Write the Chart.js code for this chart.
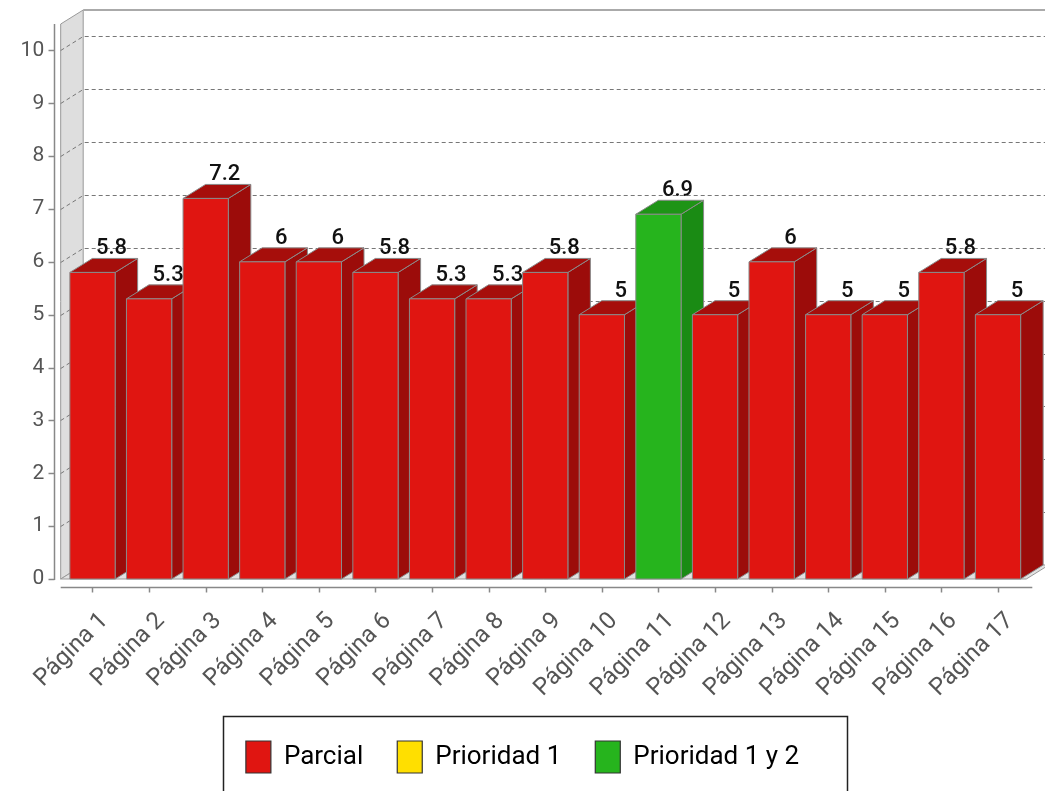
<!DOCTYPE html>
<html><head><meta charset="utf-8">
<script src="https://cdn.jsdelivr.net/npm/chart.js@4.4.0/dist/chart.umd.min.js"></script>
<style>html,body{margin:0;padding:0;background:#fff;overflow:hidden}#wrap{width:1045px;height:791px;position:relative}</style>
</head><body><div id="wrap"><canvas id="c" width="1045" height="791"></canvas></div>
<script>
const categories = ['Página 1','Página 2','Página 3','Página 4','Página 5','Página 6','Página 7','Página 8','Página 9','Página 10','Página 11','Página 12','Página 13','Página 14','Página 15','Página 16','Página 17'];
const values = [5.8, 5.3, 7.2, 6, 6, 5.8, 5.3, 5.3, 5.8, 5, 6.9, 5, 6, 5, 5, 5.8, 5];
const statuses = ['Parcial','Parcial','Parcial','Parcial','Parcial','Parcial','Parcial','Parcial','Parcial','Parcial','Prioridad 1 y 2','Parcial','Parcial','Parcial','Parcial','Parcial','Parcial'];
const seriesNames = ['Parcial','Prioridad 1','Prioridad 1 y 2'];
const seriesFront = ['#e01511','#ffdf00','#26b41d'];
const seriesSide = ['#9c0c0a','#b09a00','#1a8b14'];
const seriesTop = ['#a60e0b','#c0a800','#1e9416'];
const yTicks = [0,1,2,3,4,5,6,7,8,9,10];
const yMax = 10.5;

const DX = 22.5, DY = -14;

const datasets = seriesNames.map((name, s) => ({
  label: name,
  data: values.map((v, i) => statuses[i] === name ? v : null),
  backgroundColor: seriesFront[s],
  borderColor: '#333',
  borderWidth: 1
}));

function poly(ctx, pts, fill, stroke) {
  ctx.beginPath();
  ctx.moveTo(pts[0][0], pts[0][1]);
  for (let k = 1; k < pts.length; k++) ctx.lineTo(pts[k][0], pts[k][1]);
  ctx.closePath();
  if (fill) { ctx.fillStyle = fill; ctx.fill(); }
  if (stroke) { ctx.strokeStyle = stroke; ctx.lineWidth = 1; ctx.stroke(); }
}

function barEl(chart, i) {
  for (let s = 0; s < chart.data.datasets.length; s++) {
    const v = chart.data.datasets[s].data[i];
    if (v !== null && v !== undefined) {
      const el = chart.getDatasetMeta(s).data[i];
      return {s, v, p: el.getProps(['x','y','base','width'], true)};
    }
  }
  return null;
}

const threeD = {
  id: 'threeD',
  beforeDatasetsDraw(chart) {
    const {ctx, chartArea: ca, scales: {x, y}} = chart;
    const wallX = ca.left - 3.5;
    const floorY = y.getPixelForValue(0);
    const topY = ca.top;
    const rightX = ca.right;
    ctx.save();
    poly(ctx, [[wallX, topY],[wallX+DX, topY+DY],[wallX+DX, floorY+DY],[wallX, floorY]], '#dedede', '#999');
    poly(ctx, [[wallX, floorY],[wallX+DX, floorY+DY],[rightX+DX, floorY+DY],[rightX, floorY]], '#e2e2e2', '#999');
    ctx.strokeStyle = '#aaa'; ctx.lineWidth = 2;
    ctx.beginPath(); ctx.moveTo(wallX+DX, topY+DY); ctx.lineTo(chart.width, topY+DY); ctx.stroke();
    ctx.strokeStyle = '#777'; ctx.lineWidth = 1; ctx.setLineDash([4,3]);
    yTicks.forEach(v => {
      if (v === 0) return;
      const py = Math.round(y.getPixelForValue(v)) + 0.5;
      ctx.beginPath(); ctx.moveTo(wallX, py); ctx.lineTo(wallX+DX, py+DY); ctx.lineTo(chart.width, py+DY); ctx.stroke();
    });
    ctx.setLineDash([]);
    const axX = Math.round(ca.left - 10.5) + 0.5;
    ctx.strokeStyle = '#888'; ctx.lineWidth = 1.5;
    ctx.beginPath(); ctx.moveTo(axX, topY); ctx.lineTo(axX, floorY + 1); ctx.stroke();
    yTicks.forEach(v => {
      const py = Math.round(y.getPixelForValue(v)) + 0.5;
      ctx.beginPath(); ctx.moveTo(axX - 6, py); ctx.lineTo(axX, py); ctx.stroke();
    });
    const axY = Math.round(floorY + 8) + 0.5;
    ctx.beginPath(); ctx.moveTo(wallX, axY); ctx.lineTo(rightX + 6, axY); ctx.stroke();
    categories.forEach((c, i) => {
      const px = Math.round(x.getPixelForValue(i)) + 0.5;
      ctx.beginPath(); ctx.moveTo(px, axY); ctx.lineTo(px, axY + 5); ctx.stroke();
    });
    categories.forEach((c, i) => {
      const b = barEl(chart, i);
      if (!b) return;
      const {x: cx, y: ty, base, width} = b.p;
      const l = cx - width/2, r = cx + width/2;
      poly(ctx, [[r, ty],[r+DX, ty+DY],[r+DX, base+DY],[r, base]], seriesSide[b.s], '#8a8a8a');
      poly(ctx, [[l, ty],[l+DX, ty+DY],[r+DX, ty+DY],[r, ty]], seriesTop[b.s], '#8a8a8a');
      poly(ctx, [[l, ty],[r, ty],[r, base],[l, base]], seriesFront[b.s], '#8a8a8a');
    });
    ctx.restore();
    return false;
  },
  afterDraw(chart) {
    const {ctx} = chart;
    ctx.save();
    ctx.font = '500 22px Roboto';
    ctx.fillStyle = '#111';
    ctx.textAlign = 'center';
    ctx.textBaseline = 'alphabetic';
    categories.forEach((c, i) => {
      const b = barEl(chart, i);
      if (!b) return;
      ctx.fillText(String(b.v), b.p.x + 19, b.p.y + DY - 4);
    });
    const lg = chart.legend;
    if (lg && lg.legendHitBoxes && lg.legendHitBoxes.length) {
      const hb = lg.legendHitBoxes;
      const first = hb[0], last = hb[hb.length - 1];
      const left = first.left - 23, right = last.left + last.width + 48;
      const top = first.top - 25;
      ctx.strokeStyle = '#222'; ctx.lineWidth = 1.5;
      ctx.strokeRect(Math.round(left) + 0.5, Math.round(top) + 0.5, Math.round(right - left), 200);
    }
    ctx.restore();
  }
};

new Chart(document.getElementById('c'), {
  type: 'bar',
  data: { labels: categories, datasets },
  options: {
    responsive: false,
    animation: false,
    layout: { padding: { top: 24, right: 18.7, bottom: 8, left: 18.7 } },
    datasets: { bar: { barPercentage: 0.8, categoryPercentage: 1 } },
    scales: {
      x: {
        stacked: true,
        grid: { display: false, drawTicks: false },
        border: { display: false },
        ticks: { font: { family: 'Roboto', size: 24 }, color: '#555', minRotation: 45, maxRotation: 45, autoSkip: false, padding: 28, labelOffset: 12 },
        afterFit(s) { s.height = 128; s.paddingLeft = 0; s.paddingRight = 0; }
      },
      y: {
        stacked: true,
        min: 0, max: yMax,
        grid: { display: false, drawTicks: false },
        border: { display: false },
        ticks: { stepSize: 1, includeBounds: false, font: { family: 'Roboto', size: 21 }, color: '#555', padding: 20 },
        afterFit(s) { s.width = 45.5; s.paddingTop = 0; s.paddingBottom = 0; }
      }
    },
    plugins: {
      tooltip: { enabled: false },
      legend: {
        position: 'bottom', align: 'center',
        labels: {
          font: { family: 'Roboto', size: 26 }, color: '#333',
          boxWidth: 25, boxHeight: 32, padding: 34,
          generateLabels(chart) {
            return chart.data.datasets.map((ds, i) => ({
              text: ds.label, fillStyle: ds.backgroundColor, strokeStyle: '#333', lineWidth: 1.2, hidden: false, datasetIndex: i
            }));
          }
        }
      }
    }
  },
  plugins: [threeD]
});
</script></body></html>
